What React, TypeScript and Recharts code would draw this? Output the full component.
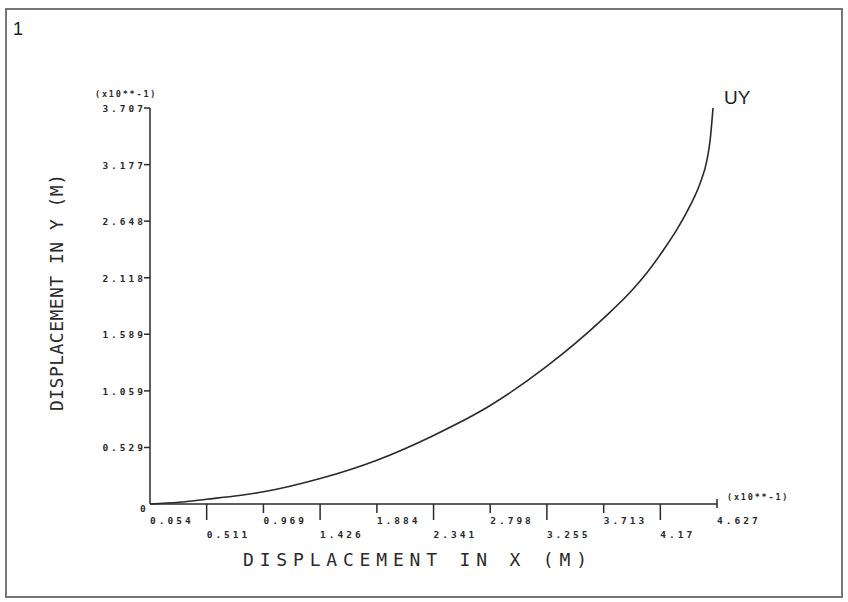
import { LineChart, Line, XAxis, YAxis } from "recharts";

// displacement readings (x10**-1 m)
const xValues = [0.054, 0.288, 0.511, 0.773, 0.969, 1.426, 1.884, 2.341, 2.798, 3.255, 3.713, 3.949, 4.062, 4.191, 4.304, 4.409, 4.49, 4.546, 4.571, 4.595];
const yValues = [0, 0.016, 0.045, 0.08, 0.114, 0.238, 0.41, 0.642, 0.922, 1.29, 1.74, 2.01, 2.165, 2.37, 2.57, 2.79, 3.0, 3.22, 3.4, 3.707];

const xTicks = [0.054, 0.511, 0.969, 1.426, 1.884, 2.341, 2.798, 3.255, 3.713, 4.17, 4.627];
const xTickLabels = ["0.054", "0.511", "0.969", "1.426", "1.884", "2.341", "2.798", "3.255", "3.713", "4.17", "4.627"];
const yTicks = [0, 0.529, 1.059, 1.589, 2.118, 2.648, 3.177, 3.707];
const yTickLabels = ["0", "0.529", "1.059", "1.589", "2.118", "2.648", "3.177", "3.707"];

const data = xValues.map((x, i) => ({ x, uy: yValues[i] }));

const ink = "#2a2a2a";
const tickFont = {
  fontFamily: "DejaVu Sans Mono",
  fontSize: 9.5,
  fontWeight: 700,
  letterSpacing: 3,
  fill: ink,
};

function XTick(props: any) {
  const { x, y, payload } = props;
  const i = xTicks.indexOf(payload.value);
  const odd = i % 2 === 1;
  let mark = null;
  if (i === xTicks.length - 1) {
    mark = <line x1={x} x2={x} y1={y - 5} y2={y + 4} stroke={ink} strokeWidth={1.5} />;
  } else if (i > 0) {
    mark = <line x1={x} x2={x} y1={y} y2={y + (odd ? 16 : 9)} stroke={ink} strokeWidth={1.5} />;
  }
  return (
    <g>
      {mark}
      <text x={x} y={y + (odd ? 33.5 : 19.5)} {...tickFont}>
        {xTickLabels[i]}
      </text>
    </g>
  );
}

function YTick(props: any) {
  const { x, y, payload } = props;
  const i = yTicks.indexOf(payload.value);
  if (i === 0) {
    return (
      <text x={x - 10} y={y + 8} {...tickFont}>
        {yTickLabels[i]}
      </text>
    );
  }
  return (
    <g>
      <line x1={x - 6} x2={x} y1={y} y2={y} stroke={ink} strokeWidth={1.5} />
      <text x={x - 4} y={y + 4} textAnchor="end" {...tickFont}>
        {yTickLabels[i]}
      </text>
    </g>
  );
}

export default function App() {
  return (
    <div style={{ position: "fixed", left: 0, top: 0, width: 848, height: 602, background: "#fff" }}>
      <LineChart
        width={848}
        height={602}
        data={data}
        margin={{ top: 108, right: 131, left: 100, bottom: 58 }}
      >
        <XAxis
          dataKey="x"
          type="number"
          domain={[0.054, 4.627]}
          ticks={xTicks}
          interval={0}
          height={40}
          tickSize={0}
          tickMargin={0}
          tickLine={false}
          tick={<XTick />}
          axisLine={{ stroke: ink, strokeWidth: 1.5 }}
        />
        <YAxis
          type="number"
          domain={[0, 3.707]}
          ticks={yTicks}
          interval={0}
          width={50}
          tickSize={0}
          tickMargin={0}
          tickLine={false}
          tick={<YTick />}
          axisLine={{ stroke: ink, strokeWidth: 1.5 }}
        />
        <Line
          dataKey="uy"
          type="monotone"
          stroke={ink}
          strokeWidth={1.6}
          dot={false}
          isAnimationActive={false}
        />
      </LineChart>
      <svg
        width={848}
        height={602}
        style={{ position: "absolute", left: 0, top: 0, pointerEvents: "none" }}
      >
        <rect x={6} y={9} width={836} height={588} fill="none" stroke="#777" strokeWidth={2} />
        <text x={13} y={35} fontFamily="Liberation Sans" fontSize={18} fill="#222">1</text>
        <text x={724} y={104} fontFamily="Liberation Sans" fontSize={19} fill="#222">UY</text>
        <text x={95} y={97} {...tickFont} fontSize={8.5} letterSpacing={1.8}>(x10**-1)</text>
        <text x={727} y={500} {...tickFont} fontSize={8.5} letterSpacing={1.8}>(x10**-1)</text>
        <text
          x={243}
          y={566}
          fontFamily="DejaVu Sans Mono"
          fontSize={18}
          fill={ink}
          textLength={344}
          lengthAdjust="spacing"
        >
          DISPLACEMENT IN X (M)
        </text>
        <text
          x={0}
          y={0}
          transform="translate(63 411) rotate(-90)"
          fontFamily="DejaVu Sans Mono"
          fontSize={18}
          fill={ink}
          textLength={237}
          lengthAdjust="spacing"
        >
          DISPLACEMENT IN Y (M)
        </text>
      </svg>
    </div>
  );
}
